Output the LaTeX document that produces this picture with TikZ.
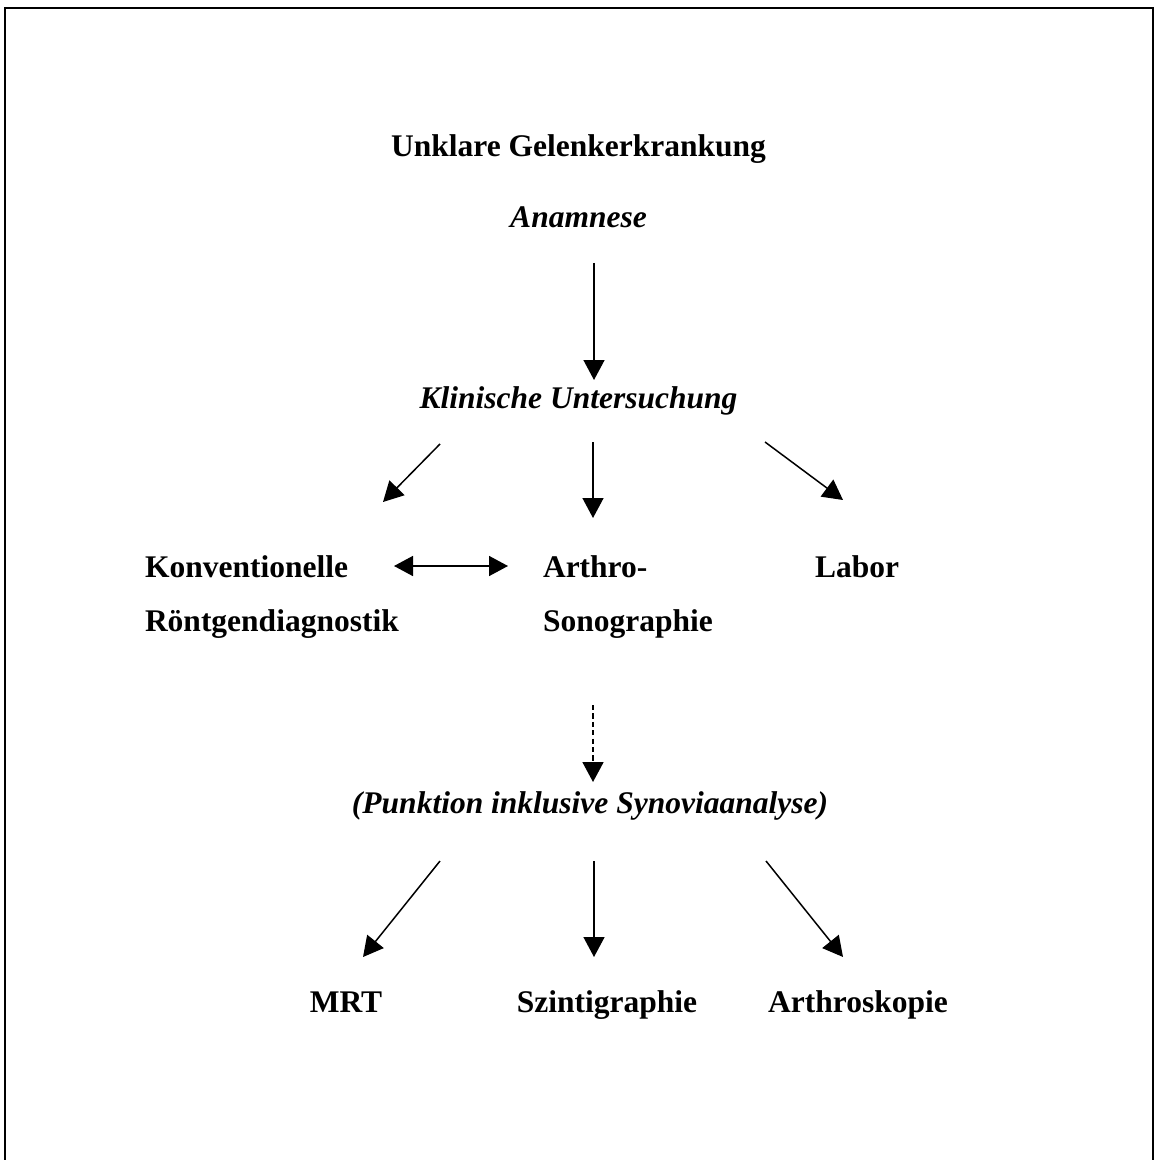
\documentclass[tikz,border=0pt]{standalone}
\usepackage{fontspec}
\setmainfont{Liberation Serif}
\usetikzlibrary{arrows.meta}
\begin{document}
\begin{tikzpicture}[x=0.5pt,y=-0.5pt,
  lbl/.style={inner sep=0pt, outer sep=0pt, anchor=base, font=\fontsize{15.75pt}{18pt}\selectfont\bfseries},
  lblw/.style={lbl, anchor=base west},
  itl/.style={lbl, font=\fontsize{15.75pt}{18pt}\selectfont\bfseries\itshape},
  arr/.style={line width=0.75pt, -{Triangle[length=10pt,width=10.5pt]}},
  darr/.style={line width=0.75pt, {Triangle[length=9.5pt,width=10pt]}-{Triangle[length=9.5pt,width=10pt]}},
  frame/.style={line width=1pt}]
\useasboundingbox (0,0) rectangle (1155,1160);
\draw[frame] (5,1160) -- (5,8) -- (1153,8) -- (1153,1160);

\node[lbl] (unk) at (578.5,157) {Unklare Gelenkerkrankung};
\node[itl] (anam) at (578.5,228) {Anamnese};
\node[itl] (klin) at (578.5,408) {Klinische Untersuchung};
\node[lblw] (konv) at (145,577) {Konventionelle};
\node[lblw] (roent) at (145,631) {Röntgendiagnostik};
\node[lblw] (arth) at (543,577) {Arthro-};
\node[lblw] (sono) at (543,631) {Sonographie};
\node[lblw] (labor) at (815,577) {Labor};
\node[itl] (punk) at (590,813) {(Punktion inklusive Synoviaanalyse)};
\node[lbl] (mrt) at (346,1012) {MRT};
\node[lbl] (szin) at (607,1012) {Szintigraphie};
\node[lbl] (arsk) at (858,1012) {Arthroskopie};

\coordinate (a0s) at (594,263); \coordinate (a0e) at (594,380);
\coordinate (k1s) at (440,444); \coordinate (k1e) at (383,502);
\coordinate (k2s) at (593,442); \coordinate (k2e) at (593,518);
\coordinate (k3s) at (765,442); \coordinate (k3e) at (843,500);
\coordinate (ds) at (394,566);  \coordinate (de) at (508,566);
\coordinate (p0s) at (593,705); \coordinate (p0e) at (593,782);
\coordinate (b1s) at (440,861); \coordinate (b1e) at (363,957);
\coordinate (b2s) at (594,861); \coordinate (b2e) at (594,957);
\coordinate (b3s) at (766,861); \coordinate (b3e) at (843,957);

\draw[arr] (a0s) -- (a0e);
\draw[arr] (k1s) -- (k1e);
\draw[arr] (k2s) -- (k2e);
\draw[arr] (k3s) -- (k3e);
\draw[darr] (ds) -- (de);
\draw[arr, line width=0.9pt, dash pattern=on 2.6pt off 1.6pt] (p0s) -- (p0e);
\draw[arr] (b1s) -- (b1e);
\draw[arr] (b2s) -- (b2e);
\draw[arr] (b3s) -- (b3e);
\end{tikzpicture}
\end{document}
